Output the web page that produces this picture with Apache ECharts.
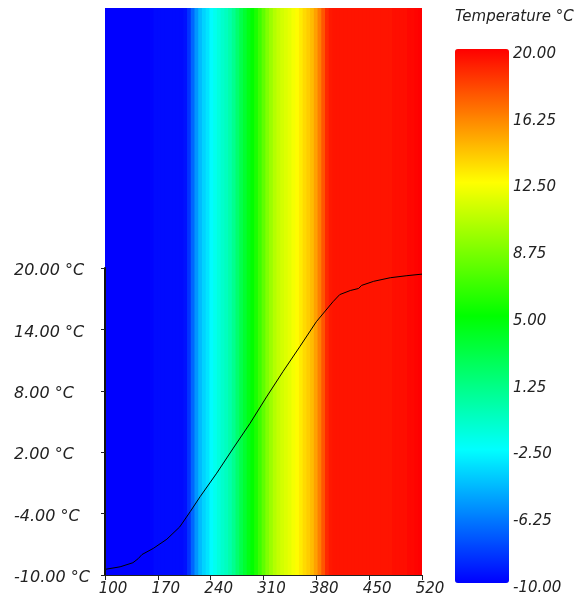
<!DOCTYPE html>
<html><head><meta charset="utf-8">
<script src="https://cdn.jsdelivr.net/npm/echarts@6/dist/echarts.min.js"></script>
<style>html,body{margin:0;padding:0;background:#fff}#c{width:579px;height:599px}</style>
</head><body><div id="c"></div>
<script>
// Line: position (x) and temperature (°C)
var lineX = [100,120,137,144,149,164,182,199,213,226,248,270,292,314,336,358,380,402,411,425,436,440,456,478,500,520];
var lineY = [-9.45,-9.2,-8.8,-8.4,-8.0,-7.4,-6.5,-5.3,-3.8,-2.35,-0.05,2.4,4.8,7.4,9.9,12.3,14.75,16.7,17.4,17.8,18.0,18.3,18.7,19.05,19.25,19.4];
// Background field: x columns and temperature per column
var bgX = [100,105,110,115,120,125,130,135,140,145,150,155,160,165,170,175,180,185,190,195,200,
  205,210,215,220,225,230,235,240,245,250,255,260,265,270,275,280,285,290,295,300,
  305,310,315,320,325,330,335,340,345,350,355,360,365,370,375,380,385,390,395,400,
  405,410,415,420,425,430,435,440,445,450,455,460,465,470,475,480,485,490,495,500,505,510,515,520];
var bgT = [-10,-10,-10,-10,-10,-10,-10,-10,-10,-10,-10,-10,-9.9,-9.7,-9.7,-9.7,-9.7,-9.7,-9.7,-9.7,-9.7,
  -9.5,-8.5,-7,-5.6,-4.5,-3.8,-3.3,-2.6,-2.0,-1.5,-1.0,-0.6,0,0.8,1.8,2.8,3.6,4.4,5.0,5.8,
  6.8,7.8,8.8,9.6,10.3,10.8,11.2,11.5,11.8,12.2,12.6,13.1,13.6,14.0,14.5,15.3,16.3,17.5,18.8,19.3,
  19.4,19.4,19.4,19.4,19.4,19.4,19.4,19.4,19.4,19.4,19.4,19.4,19.4,19.4,19.4,19.4,19.6,19.6,19.6,19.6,19.8,19.8,19.9,20];
// Axis ticks
var xTicks = {min:100, max:520, step:70};
var yTicks = {min:-10, max:20, step:6};
var cbTicks = {min:-10, max:20, step:3.75};
var colorStops = ['#0000ff','#00ffff','#00ff00','#ffff00','#ff0000'];
var titleText = 'Temperature °C';

var FONT = 'DejaVu Sans';
var chart = echarts.init(document.getElementById('c'));
var field = bgX.map(function(x,i){ return [i,bgT[i]]; });
var line = lineX.map(function(x,i){ return [x,lineY[i]]; });

chart.setOption({
  animation:false,
  grid:[
    {left:105, top:8, width:317, height:567},
    {left:105, top:268, width:317, height:307},
    {left:455, top:54, width:54, height:534}
  ],
  xAxis:[
    {gridIndex:0, type:'category', data:bgX.map(String), show:false},
    {gridIndex:1, type:'value', min:xTicks.min, max:xTicks.max, interval:xTicks.step, z:10,
      axisLine:{show:true, onZero:false, lineStyle:{color:'#222', width:1}},
      axisTick:{show:true, length:5, lineStyle:{color:'#222'}},
      splitLine:{show:false},
      axisLabel:{fontFamily:FONT, fontStyle:'italic', fontSize:15, color:'#222', margin:7, padding:[0,0,0,16]}},
    {gridIndex:2, type:'value', show:false, axisLine:{onZero:false}}
  ],
  yAxis:[
    {gridIndex:0, type:'value', min:0, max:1, show:false, axisLine:{onZero:false}},
    {gridIndex:1, type:'value', min:yTicks.min, max:yTicks.max, interval:yTicks.step, z:10,
      axisLine:{show:true, onZero:false, lineStyle:{color:'#111', width:2}},
      axisTick:{show:true, length:4, lineStyle:{color:'#222'}},
      splitLine:{show:false},
      axisLabel:{fontFamily:FONT, fontStyle:'italic', fontSize:16, color:'#222', align:'left', margin:91,
        verticalAlign:'top', lineHeight:14, padding:[-4,0,0,0],
        formatter:function(v){ return v.toFixed(2)+' °C'; }}},
    {gridIndex:2, type:'value', min:cbTicks.min, max:cbTicks.max, interval:cbTicks.step, position:'right',
      axisLine:{show:false, onZero:false}, axisTick:{show:false}, splitLine:{show:false},
      axisLabel:{fontFamily:FONT, fontStyle:'italic', fontSize:15, color:'#222', margin:4,
        formatter:function(v){ return v.toFixed(2); }}}
  ],
  visualMap:{
    type:'continuous', min:cbTicks.min, max:cbTicks.max, seriesIndex:0, dimension:1, calculable:false,
    left:455, top:49, itemWidth:54, itemHeight:534, padding:0, text:null, hoverLink:false,
    inRange:{color:colorStops}
  },
  graphic:[{type:'text', left:455, top:10, style:{text:titleText, font:'italic 15px "DejaVu Sans"', fill:'#222'}}],
  series:[
    {type:'custom', xAxisIndex:0, yAxisIndex:0, data:field, silent:true,
      renderItem:function(params, api){
        var p = api.coord([api.value(0), 1]);
        var w = api.size([1, 0])[0];
        var cs = params.coordSys;
        var x0 = Math.max(cs.x, p[0]-w/2);
        var x1 = Math.min(cs.x+cs.width, p[0]+w/2+1);
        return {type:'rect', shape:{x:x0, y:cs.y, width:x1-x0, height:cs.height},
          style:{fill:api.visual('color')}};
      }},
    {type:'line', xAxisIndex:1, yAxisIndex:1, data:line, showSymbol:false, smooth:false, silent:true,
      lineStyle:{color:'#000', width:1}, z:5},
    {type:'scatter', xAxisIndex:2, yAxisIndex:2, data:[]}
  ]
});
</script></body></html>
